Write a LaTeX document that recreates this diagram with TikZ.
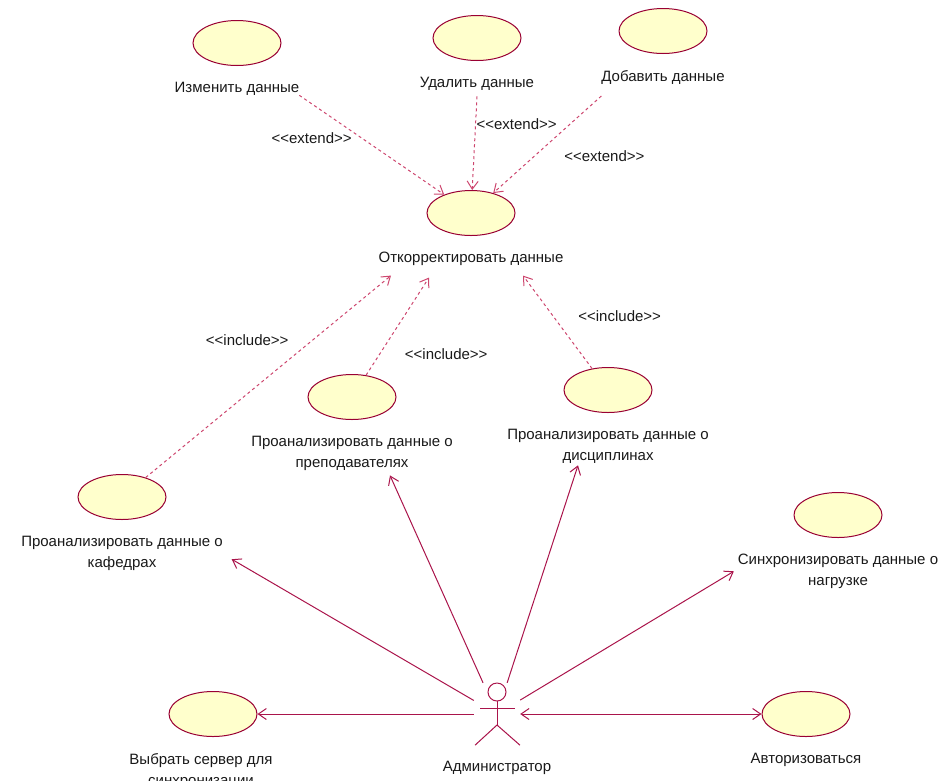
\documentclass[tikz,border=0pt]{standalone}
\usepackage{fontspec}
\setmainfont{Liberation Sans}
\usepackage{tikz}
\usetikzlibrary{shapes.geometric, arrows.meta, positioning}
\definecolor{ucfill}{RGB}{255,255,204}
\definecolor{ucline}{RGB}{153,0,51}
\definecolor{relline}{RGB}{170,20,75}
\definecolor{depline}{RGB}{205,70,110}
\definecolor{uctext}{RGB}{25,25,25}
\newcommand{\stereo}[1]{<\kern0pt<#1>\kern0pt>}

\begin{document}
\begin{tikzpicture}[
	x=1pt, y=1pt,
	font=\fontsize{15}{21}\selectfont, text=uctext,
	uc/.style = {shape=ellipse, draw=ucline, fill=ucfill, line width=1pt, minimum width=88pt, minimum height=45pt, inner sep=0pt},
	uct/.style = {shape=rectangle, draw=none, inner sep=0pt, outer sep=0pt, align=center},
	ster/.style = {shape=rectangle, draw=none, inner sep=0pt, outer sep=0pt},
	actor/.style = {draw=relline, line width=1pt},
	assoc/.style = {draw=relline, line width=1pt, -{Straight Barb[length=8pt,width=11pt]}},
	dep/.style = {draw=depline, line width=1pt, dash pattern=on 3pt off 3pt, -{Straight Barb[length=8pt,width=11pt]}},
	]
\useasboundingbox (0,0) rectangle (944,-780);
% use cases, from top to bottom
\node[uc] (izm) at (237,-43) {};
\node[uct, below=16pt of izm] (izmT) {Изменить данные};
\node[uc] (udal) at (477,-38) {};
\node[uct, below=16pt of udal] (udalT) {Удалить данные};
\node[uc] (dob) at (663,-31) {};
\node[uct, below=16pt of dob] (dobT) {Добавить данные};
\node[uc] (otk) at (471,-213) {};
\node[uct, below=16pt of otk] (otkT) {Откорректировать данные};
\node[uc] (prep) at (352,-397) {};
\node[uct, below=16pt of prep] (prepT) {Проанализировать данные о\\преподавателях};
\node[uc] (disc) at (608,-390) {};
\node[uct, below=16pt of disc] (discT) {Проанализировать данные о\\дисциплинах};
\node[uc] (kaf) at (122,-497) {};
\node[uct, below=16pt of kaf] (kafT) {Проанализировать данные о\\кафедрах};
\node[uc] (sync) at (838,-515) {};
\node[uct, below=16pt of sync] (syncT) {Синхронизировать данные о\\нагрузке};
\node[uc] (vyb) at (213,-714) {};
\node[uct, below=16pt of vyb, xshift=-12pt] (vybT) {Выбрать сервер для\\синхронизации};
\node[uc] (avt) at (806,-714) {};
\node[uct, below=16pt of avt] (avtT) {Авторизоваться};
% actor
\node[shape=rectangle, draw=none, minimum width=46pt, minimum height=62pt, inner sep=0pt] (adm) at (497,-714) {};
\draw[actor] ([yshift=22pt]adm.center) circle (9pt);
\draw[actor] ([yshift=13pt]adm.center) -- ([yshift=-11pt]adm.center) coordinate (hip);
\draw[actor] ([xshift=-17pt,yshift=6pt]adm.center) -- ([xshift=18pt,yshift=6pt]adm.center);
\draw[actor] ([xshift=-22pt]adm.south) -- (hip) -- ([xshift=23pt]adm.south);
\node[uct, below=16pt of adm] (admT) {Администратор};
% extend
\draw[dep] (izmT.south east) -- (otk) node[ster, pos=0.43, left=10pt] {\stereo{extend}};
\draw[dep] ([yshift=-6pt]udalT.south) -- (otk) node[ster, pos=0.3, right=1pt] {\stereo{extend}};
\draw[dep] ([yshift=-12pt]dobT.south west) -- (otk) node[ster, pos=0.62, right=30pt] {\stereo{extend}};
% include
\draw[dep] (kaf) -- ([xshift=-80pt,yshift=-10pt]otkT.south) node[ster, pos=0.68, left=24pt] {\stereo{include}};
\draw[dep] (prep) -- ([xshift=-42pt,yshift=-12pt]otkT.south) node[ster, pos=0.22, right=25pt] {\stereo{include}};
\draw[dep] (disc) -- ([xshift=52pt,yshift=-10pt]otkT.south) node[ster, pos=0.56, right=25pt] {\stereo{include}};
% associations of the actor
\draw[assoc] (adm) -- ([xshift=9pt,yshift=-6pt]kafT.east);
\draw[assoc] (adm) -- ([xshift=38pt,yshift=-5pt]prepT.south);
\draw[assoc] (adm) -- ([xshift=-30pt,yshift=-2pt]discT.south);
\draw[assoc] (adm) -- ([xshift=-4pt]syncT.west);
\draw[assoc] (adm) -- (vyb);
\draw[assoc, {Straight Barb[length=8pt,width=11pt]}-{Straight Barb[length=8pt,width=11pt]}] (adm) -- (avt);
\end{tikzpicture}
\end{document}
